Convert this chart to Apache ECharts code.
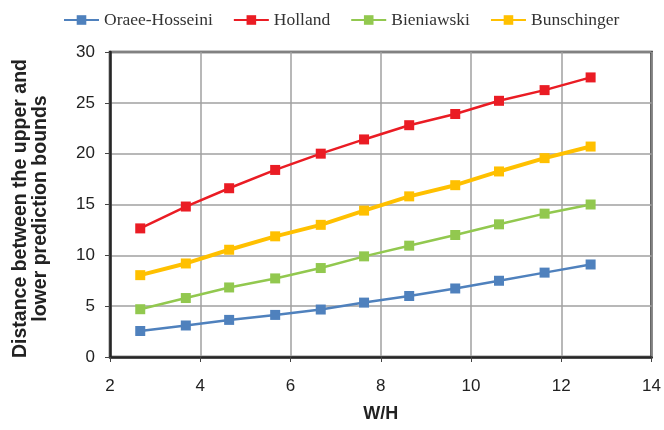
<!DOCTYPE html>
<html>
<head>
<meta charset="utf-8">
<script src="https://cdn.jsdelivr.net/npm/echarts@6/dist/echarts.min.js"></script>
<style>
  html, body { margin: 0; padding: 0; background: #fff; }
  #chart { width: 664px; height: 430px; }
</style>
</head>
<body>
<div id="chart"></div>
<script>
// W/H ratios at which the prediction bounds were evaluated
const widthToHeight = [2.67, 3.68, 4.64, 5.66, 6.67, 7.63, 8.63, 9.65, 10.62, 11.63, 12.65];

// Distance between the upper and lower prediction bounds, per pillar strength formula
const oraeeHosseini = [2.56, 3.1, 3.65, 4.14, 4.67, 5.35, 6.0, 6.74, 7.5, 8.3, 9.1];
const holland       = [12.65, 14.8, 16.6, 18.4, 20.0, 21.4, 22.8, 23.9, 25.2, 26.25, 27.5];
const bieniawski    = [4.7, 5.8, 6.84, 7.73, 8.75, 9.9, 10.95, 12.0, 13.05, 14.1, 15.0];
const bunschinger   = [8.05, 9.2, 10.55, 11.87, 13.0, 14.4, 15.8, 16.9, 18.25, 19.56, 20.7];

const seriesNames = ['Oraee-Hosseini', 'Holland', 'Bieniawski', 'Bunschinger'];
const seriesValues = [oraeeHosseini, holland, bieniawski, bunschinger];
const seriesColors = ['#4f81bd', '#ea1c24', '#92c84f', '#ffc000'];
const lineWidths = [2.5, 2.5, 2.5, 4];

const pairs = vals => widthToHeight.map((x, i) => [x, vals[i]]);

const chart = echarts.init(document.getElementById('chart'), null, { renderer: 'canvas' });
chart.setOption({
  animation: false,
  backgroundColor: '#ffffff',
  legend: {
    top: 6,
    left: 58,
    itemWidth: 35,
    itemHeight: 12,
    itemGap: 20,
    textStyle: { fontFamily: 'Liberation Serif', fontSize: 17.5, color: '#333' },
    data: seriesNames
  },
  grid: {
    left: 110, right: 7, top: 52, bottom: 73,
    show: true, borderColor: '#262626', borderWidth: 2.5
  },
  xAxis: {
    type: 'value', min: 2, max: 14, interval: 2,
    name: 'W/H', nameLocation: 'middle', nameGap: 48,
    nameTextStyle: { fontFamily: 'Liberation Sans', fontSize: 18, fontWeight: 'bold', color: '#222' },
    axisLine: { show: true, onZero: false, lineStyle: { color: '#262626', width: 2.5 } },
    axisTick: { show: true, inside: false, length: 5, lineStyle: { color: '#444' } },
    axisLabel: { fontFamily: 'Liberation Sans', fontSize: 17, color: '#222', margin: 21 },
    splitLine: { show: true, lineStyle: { color: '#a0a0a0', width: 1.5 } }
  },
  yAxis: {
    type: 'value', min: 0, max: 30, interval: 5,
    name: 'Distance between the upper and\nlower prediction bounds',
    nameLocation: 'middle', nameGap: 59, nameRotate: 90,
    nameTextStyle: {
      fontFamily: 'Liberation Sans', fontSize: 19.5, fontWeight: 'bold', color: '#222',
      lineHeight: 20, padding: [0, 8, 0, 0]
    },
    axisLine: { show: true, lineStyle: { color: '#262626', width: 2.5 } },
    axisTick: { show: true, inside: false, length: 5, lineStyle: { color: '#444' } },
    axisLabel: { fontFamily: 'Liberation Sans', fontSize: 17, color: '#222', margin: 15 },
    splitLine: { show: true, lineStyle: { color: '#a0a0a0', width: 1.5 } }
  },
  series: seriesNames.map((name, i) => ({
    name,
    type: 'line',
    data: pairs(seriesValues[i]),
    symbol: 'rect',
    symbolSize: 10,
    itemStyle: { color: seriesColors[i] },
    lineStyle: { color: seriesColors[i], width: lineWidths[i] },
    z: 2 + i
  }))
});
</script>
</body>
</html>
